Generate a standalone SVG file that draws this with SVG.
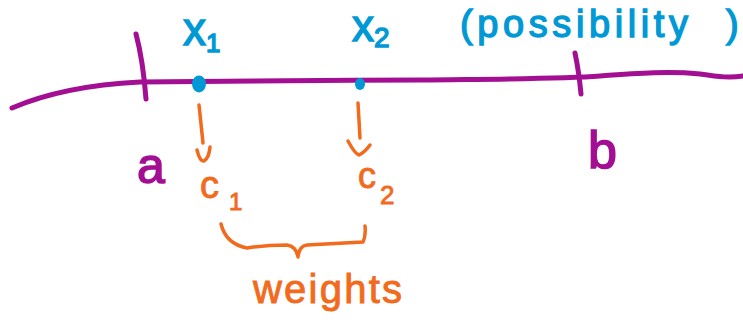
<svg xmlns="http://www.w3.org/2000/svg" width="743" height="326" viewBox="0 0 743 326">
<style>
.p{stroke:#a30f92;fill:none;stroke-width:5;stroke-linecap:round;stroke-linejoin:round}
.o{stroke:#f26a1c;fill:none;stroke-width:3.5;stroke-linecap:round;stroke-linejoin:round}
.tp{fill:#a30f92;stroke:#a30f92;stroke-width:1.6;font-family:"Liberation Sans",sans-serif}
.tb{fill:#0099d6;stroke:#0099d6;stroke-width:1.4;font-family:"Liberation Sans",sans-serif}
.to{fill:#f26a1c;stroke:#f26a1c;stroke-width:0.9;font-family:"Liberation Sans",sans-serif}
</style>
<rect width="743" height="326" fill="#ffffff"/>
<g id="axis">
<path class="p" d="M12,108 C40,96 80,85 140,82 C250,81 330,80 420,80 C500,79 560,79 600,76 C640,73 670,71 700,74 C720,77 730,78 743,76"/>
<path class="p" d="M136,34 Q143,60 146,99"/>
<path class="p" d="M575,53 Q579,72 581,94"/>
</g>
<g id="label-a"><text class="tp" x="137" y="183" font-size="50">a</text></g>
<g id="label-b"><text class="tp" x="588" y="168" font-size="52">b</text></g>
<g id="x1">
<ellipse cx="199" cy="84" rx="7" ry="8.5" fill="#0099d6"/>
<text class="tb" x="183" y="45" font-size="46">x<tspan font-size="26" dy="7">1</tspan></text>
</g>
<g id="x2">
<ellipse cx="360" cy="84" rx="5" ry="6" fill="#0099d6"/>
<text class="tb" x="352" y="41" font-size="44">x<tspan font-size="28" dy="6">2</tspan></text>
</g>
<g id="possibility">
<text class="tb" x="460" y="37" font-size="38" textLength="228" lengthAdjust="spacing">(possibility</text>
<text class="tb" x="726" y="37" font-size="38">)</text>
</g>
<g id="c1"><text class="to" x="200" y="198" font-size="38">c<tspan font-size="24" dx="10" dy="12">1</tspan></text></g>
<g id="c2"><text class="to" x="358" y="188" font-size="36">c<tspan font-size="26" dx="4" dy="16">2</tspan></text></g>
<g id="weights"><text class="to" x="253" y="303" font-size="40" textLength="149" lengthAdjust="spacing">weights</text></g>
<g id="connectors">
<path class="o" d="M199,105 L203,143"/>
<path class="o" d="M197,150 Q200,162 204,161 Q209,158 210,147"/>
<path class="o" d="M358,103 L360,138"/>
<path class="o" d="M348,141 Q355,154 359,155 Q365,152 370,145"/>
<path class="o" d="M221,224 Q226,244 247,248 Q265,245 287,245 Q296,246 298,257 Q299,246 307,245 L363,242 Q366,236 365,226"/>
</g>
</svg>
